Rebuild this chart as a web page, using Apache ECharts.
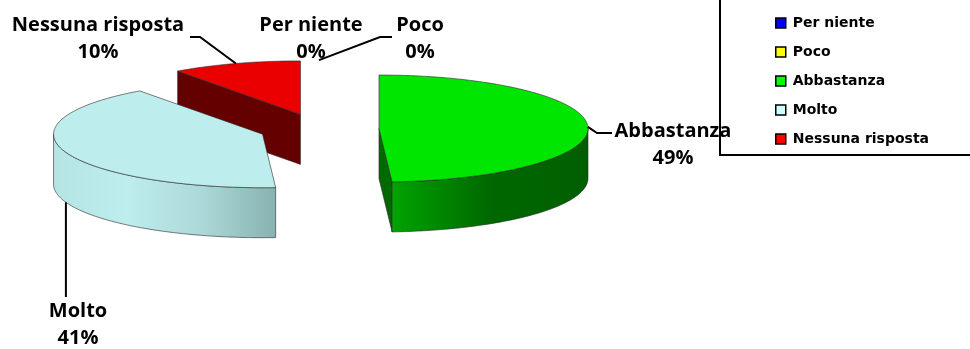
<!DOCTYPE html>
<html>
<head>
<meta charset="utf-8">
<script src="https://cdn.jsdelivr.net/npm/echarts@6/dist/echarts.min.js"></script>
<style>
  html, body { margin: 0; padding: 0; background: #fff; }
  #chart { width: 970px; height: 349px; }
</style>
</head>
<body>
<div id="chart"></div>
<script>
// Survey answers, share of respondents (%)
const CATEGORIES = ['Per niente', 'Poco', 'Abbastanza', 'Molto', 'Nessuna risposta'];
const PERCENTS = [0, 0, 49, 41, 10];

// Slice colours: top face, sides (rim shading runs left to right)
const TOP_COLORS = ['#0000ff', '#ffff00', '#00e600', '#bdeded', '#ea0000'];
const SIDE_COLORS = [
  ['#0000a0', '#000080'],
  ['#a0a000', '#808000'],
  ['#00a400', '#006800', '#005f00'],
  ['#b6e4e4', '#bdeded', '#acd8d8', '#88b2b2'],
  ['#650000', '#650000']
];
const CUT_COLORS = ['#000090', '#909000', '#006a00', '#9cc8c8', '#650000'];
const LEGEND_COLORS = ['#0000ff', '#ffff00', '#00ff00', '#ccffff', '#ff0000'];

// Tilted-disc geometry
const GEO = { cx: 319, cy: 129, rx: 209, ry: 53.5, depth: 50, explode: 60 };

// Label placement and leader elbows for each slice
const LABEL_LAYOUT = [
  { x: 311, y: 38.5, leader: null },
  { x: 420, y: 38.5, leader: [[380, 37], [392, 37]], from: 'top' },
  { x: 673, y: 144.5, leader: [[597, 133], [612, 133]], from: 'top' },
  { x: 78, y: 325, leader: [[null, 297]], from: 'bottom' },
  { x: 98, y: 38.5, leader: [[200, 37], [190, 37]], from: 'top' }
];

const TOTAL = PERCENTS.reduce((a, b) => a + b, 0);
const rad = d => d * Math.PI / 180;

function rimPoint(c, deg, dy) {
  return [c[0] + GEO.rx * Math.sin(rad(deg)), c[1] - GEO.ry * Math.cos(rad(deg)) + (dy || 0)];
}
function arc(c, a, b, dy) {
  const pts = [];
  const n = Math.max(2, Math.ceil(Math.abs(b - a)));
  for (let k = 0; k <= n; k++) pts.push(rimPoint(c, a + (b - a) * k / n, dy));
  return pts;
}
function gradient(stops) {
  return {
    type: 'linear', x: 0, y: 0, x2: 1, y2: 0,
    colorStops: stops.map((c, k) => ({ offset: k / (stops.length - 1), color: c }))
  };
}

const EDGE = { stroke: 'rgba(40,40,40,0.75)', lineWidth: 0.8 };

function drawSlice(i, api) {
  const share = api.value(0);
  let before = 0;
  for (let k = 0; k < i; k++) before += PERCENTS[k];
  const a = before / TOTAL * 360;
  const b = a + share / TOTAL * 360;
  const mid = (a + b) / 2;
  const c = [
    GEO.cx + GEO.explode * Math.sin(rad(mid)),
    GEO.cy - GEO.explode * Math.cos(rad(mid)) * GEO.ry / GEO.rx
  ];
  const D = GEO.depth;
  const children = [];

  if (b > a) {
    const cutFace = deg => {
      const p = rimPoint(c, deg);
      children.push({
        type: 'polygon',
        shape: { points: [c, p, [p[0], p[1] + D], [c[0], c[1] + D]] },
        style: Object.assign({ fill: CUT_COLORS[i] }, EDGE)
      });
    };
    // straight cut faces turned toward the viewer
    if (Math.sin(rad(a)) < -1e-6) cutFace(a);
    if (Math.sin(rad(b)) > 1e-6) cutFace(b);
    // outer rim on the front half
    const f0 = Math.max(a, 90), f1 = Math.min(b, 270);
    if (f1 > f0) {
      const topArc = arc(c, f0, f1);
      const botArc = arc(c, f0, f1, D).reverse();
      children.push({
        type: 'polygon',
        shape: { points: topArc.concat(botArc) },
        style: Object.assign({ fill: gradient(SIDE_COLORS[i]) }, EDGE)
      });
    }
    // top face
    children.push({
      type: 'polygon',
      shape: { points: [c].concat(arc(c, a, b)) },
      style: Object.assign({ fill: TOP_COLORS[i] }, EDGE)
    });
  }

  // label with category and share
  const lay = LABEL_LAYOUT[i];
  children.push({
    type: 'text',
    z2: 10,
    style: {
      text: CATEGORIES[i] + '\n' + share + '%',
      x: lay.x, y: lay.y,
      align: 'center', verticalAlign: 'middle',
      font: 'bold 20px "Open Sans"', lineHeight: 27, fill: '#000'
    }
  });
  if (lay.leader) {
    const anchor = rimPoint(c, mid, lay.from === 'bottom' ? D : 0);
    const pts = [anchor].concat(lay.leader.map(p => [p[0] === null ? anchor[0] : p[0], p[1]]));
    children.push({
      type: 'polyline',
      z2: 10,
      shape: { points: pts },
      style: { stroke: '#000', lineWidth: 2, fill: null }
    });
  }
  return { type: 'group', children };
}

// paint slices from back to front
const frontness = CATEGORIES.map((_, i) => {
  let before = 0;
  for (let k = 0; k < i; k++) before += PERCENTS[k];
  const mid = (before + PERCENTS[i] / 2) / TOTAL * 360;
  return -Math.cos(rad(mid));
});
const order = frontness.map((f, i) => i).sort((p, q) => frontness[p] - frontness[q]);

const chart = echarts.init(document.getElementById('chart'), null, { renderer: 'canvas' });
chart.setOption({
  animation: false,
  backgroundColor: '#fff',
  legend: {
    orient: 'vertical',
    left: 720,
    top: -40,
    padding: [55, 150, 8, 55],
    itemWidth: 10,
    itemHeight: 10,
    itemGap: 13,
    icon: 'rect',
    selectedMode: false,
    borderColor: '#000',
    borderWidth: 2,
    itemStyle: { borderColor: '#000', borderWidth: 1.5 },
    textStyle: { fontFamily: 'DejaVu Sans', fontWeight: 'bold', fontSize: 14, lineHeight: 16, color: '#000', padding: [0, 0, 0, 2] },
    data: CATEGORIES
  },
  series: CATEGORIES.map((name, i) => ({
    type: 'custom',
    name,
    coordinateSystem: 'none',
    z: 2 + order.indexOf(i),
    itemStyle: { color: LEGEND_COLORS[i] },
    data: [[PERCENTS[i]]],
    renderItem: (params, api) => drawSlice(i, api)
  }))
});
</script>
</body>
</html>
